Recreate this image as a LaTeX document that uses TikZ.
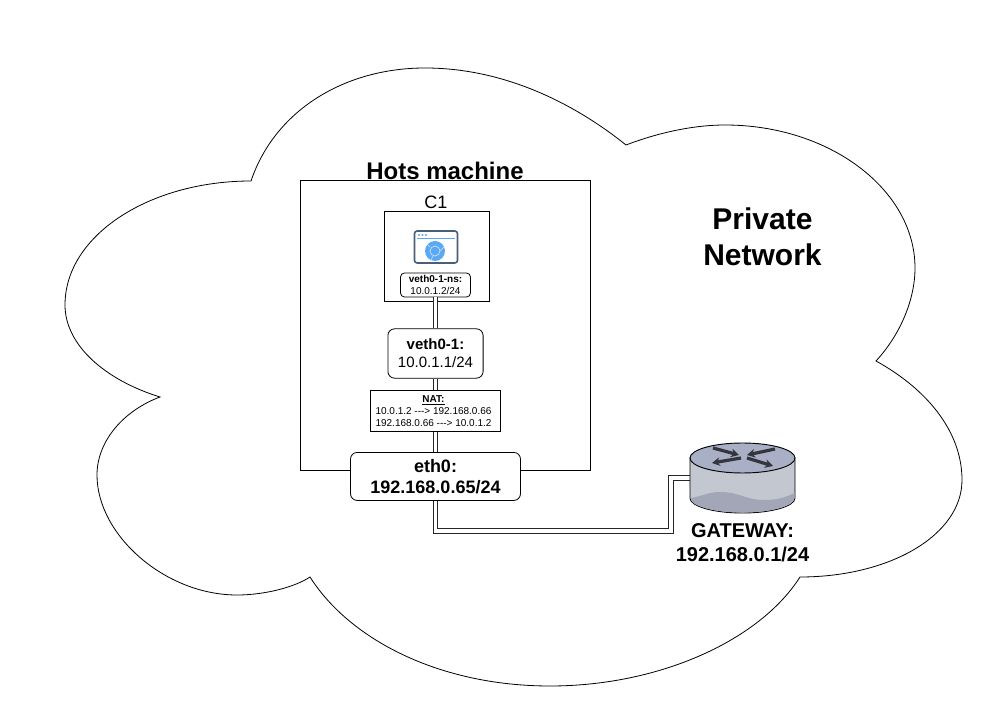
\documentclass[tikz,border=0pt]{standalone}
\usepackage{fontspec}
\setmainfont{Liberation Sans}
\usetikzlibrary{positioning,arrows.meta}
\definecolor{routertop}{HTML}{A9B0C6}
\definecolor{routerside}{HTML}{C3C7D0}
\definecolor{routerlow}{HTML}{A2A6B7}
\definecolor{routerarrow}{HTML}{33363C}
\definecolor{iconline}{HTML}{4A5F73}
\definecolor{iconblue}{HTML}{5AA9F2}
\tikzset{
  on grid,
  machine/.style={draw, line width=0.6pt, fill=white, minimum width=217.5pt, minimum height=217.5pt},
  roundbox/.style={draw, line width=0.6pt, fill=white, rounded corners=5pt, align=center, inner sep=0pt},
  plainbox/.style={draw, line width=0.6pt, fill=white, align=center, inner sep=0pt},
  link/.style={draw=black!85, line width=0.6pt, double, double distance=2.8pt},
  caption/.style={font=\bfseries\fontsize{15}{18}\selectfont, align=center, inner sep=0pt},
}
\begin{document}
\begin{tikzpicture}[x=0.75pt,y=-0.75pt]
  \useasboundingbox (0,0) rectangle (1001,723);
  % the cloud
  \draw[line width=0.6pt] (251,181) .. controls (275,110) and (345,68) .. (425,68)
    .. controls (500,68) and (570,100) .. (626,145)
    .. controls (660,132) and (695,125) .. (725,125)
    .. controls (830,125) and (915,190) .. (915,268)
    .. controls (915,300) and (900,335) .. (876,361)
    .. controls (925,388) and (962,430) .. (962,480)
    .. controls (962,535) and (890,577) .. (800,577)
    .. controls (760,640) and (660,686) .. (550,686)
    .. controls (440,686) and (350,640) .. (310,577)
    .. controls (295,587) and (265,595) .. (237,595)
    .. controls (165,595) and (97,535) .. (97,475)
    .. controls (97,440) and (125,410) .. (160,397)
    .. controls (105,380) and (65,345) .. (65,305)
    .. controls (65,235) and (150,181) .. (251,181) -- cycle;
  \node[font=\bfseries\fontsize{22.5}{27}\selectfont, align=center, inner sep=0pt] (private) at (762.5,237) {Private\\Network};

  \node[machine] (host) at (445.5,325.5) {};
  \node[font=\bfseries\fontsize{18}{22}\selectfont, inner sep=0pt] (hosttitle) at (445,171) {Hots machine};

  \node[plainbox, minimum width=78.6pt, minimum height=67.5pt] (c1) at (436.5,256) {};
  \node[font=\fontsize{13.5}{16}\selectfont, inner sep=0pt] (c1title) at (436,202) {C1};
  \node[roundbox, rounded corners=3pt, minimum width=52.5pt, minimum height=18pt, font=\fontsize{7.5}{9}\selectfont] (ns) at (435.5,285) {\textbf{veth0-1-ns:}\\10.0.1.2/24};

  \node[roundbox, minimum width=71.4pt, minimum height=37pt, font=\fontsize{11.25}{13.5}\selectfont] (veth) at (435.5,353.5) {\textbf{veth0-1:}\\10.0.1.1/24};
  \node[plainbox, minimum width=97.5pt, minimum height=31pt, font=\fontsize{7.5}{9}\selectfont, below=43.1pt of veth] (nat) {\textbf{\underline{NAT:}}\kern3pt\\10.0.1.2 -{}-{}-> 192.168.0.66\kern3pt\\192.168.0.66 -{}-{}-> 10.0.1.2\kern3pt};
  \node[roundbox, minimum width=127.5pt, minimum height=36pt, font=\bfseries\fontsize{13.5}{16}\selectfont, below=49.1pt of nat] (eth0) {eth0:\\192.168.0.65/24};

  \node[minimum width=78.75pt, minimum height=52.5pt, inner sep=0pt] (router) at (742.5,478) {};
  \coordinate (turn) at (671,531);

  \path[link] (ns) -- (veth);
  \path[link] (veth) -- (nat);
  \path[link] (nat) -- (eth0);
  \path[link] (eth0.south) |- (turn) |- (router.west);

  % browser icon
  \draw[iconline, line width=1.2pt, rounded corners=2pt, fill=white] (414.5,231) rectangle (457.5,263);
  \draw[iconblue, line width=0.7pt] (417,238) -- (455,238);
  \foreach \dotx in {419,422.5,426}
    \fill[iconblue] (\dotx,235) circle[radius=1.1];
  \fill[iconblue] (435,251) circle[radius=10];
  \draw[white!70!iconblue, line width=0.5pt] (435,251) circle[radius=5];
  \draw[white!70!iconblue, line width=0.5pt] (430,247) -- (427,244) (440,251) -- (444,247) (433,256) -- (431,260);

  % router
  \draw[line width=0.7pt, fill=routerside] (690,458) -- (690,498)
    .. controls (690,506.3) and (713.5,513) .. (742.5,513)
    .. controls (771.5,513) and (795,506.3) .. (795,498) -- (795,458) -- cycle;
  \fill[routerlow] (690.4,498) .. controls (700,497) and (708,492) .. (720,492)
    .. controls (740,492) and (745,500) .. (765,500)
    .. controls (778,500) and (786,497) .. (794.6,493) -- (794.6,498)
    .. controls (794.6,506) and (771.5,512.6) .. (742.5,512.6)
    .. controls (713.5,512.6) and (690.4,506) .. (690.4,498) -- cycle;
  \draw[line width=0.7pt, fill=routertop] (742.5,458) ellipse[x radius=52.5, y radius=15];
  \foreach \ax/\ay/\bx/\by in {713/448/739/455, 775/449/747/455, 741/458/712/463, 747/458/773/466}
    \draw[routerarrow, line width=2.4pt, -{Stealth[length=6pt,width=6.5pt]}] (\ax,\ay) -- (\bx,\by);
  \node[caption] (gateway) at (742.5,543) {GATEWAY:\\192.168.0.1/24};
\end{tikzpicture}
\end{document}
